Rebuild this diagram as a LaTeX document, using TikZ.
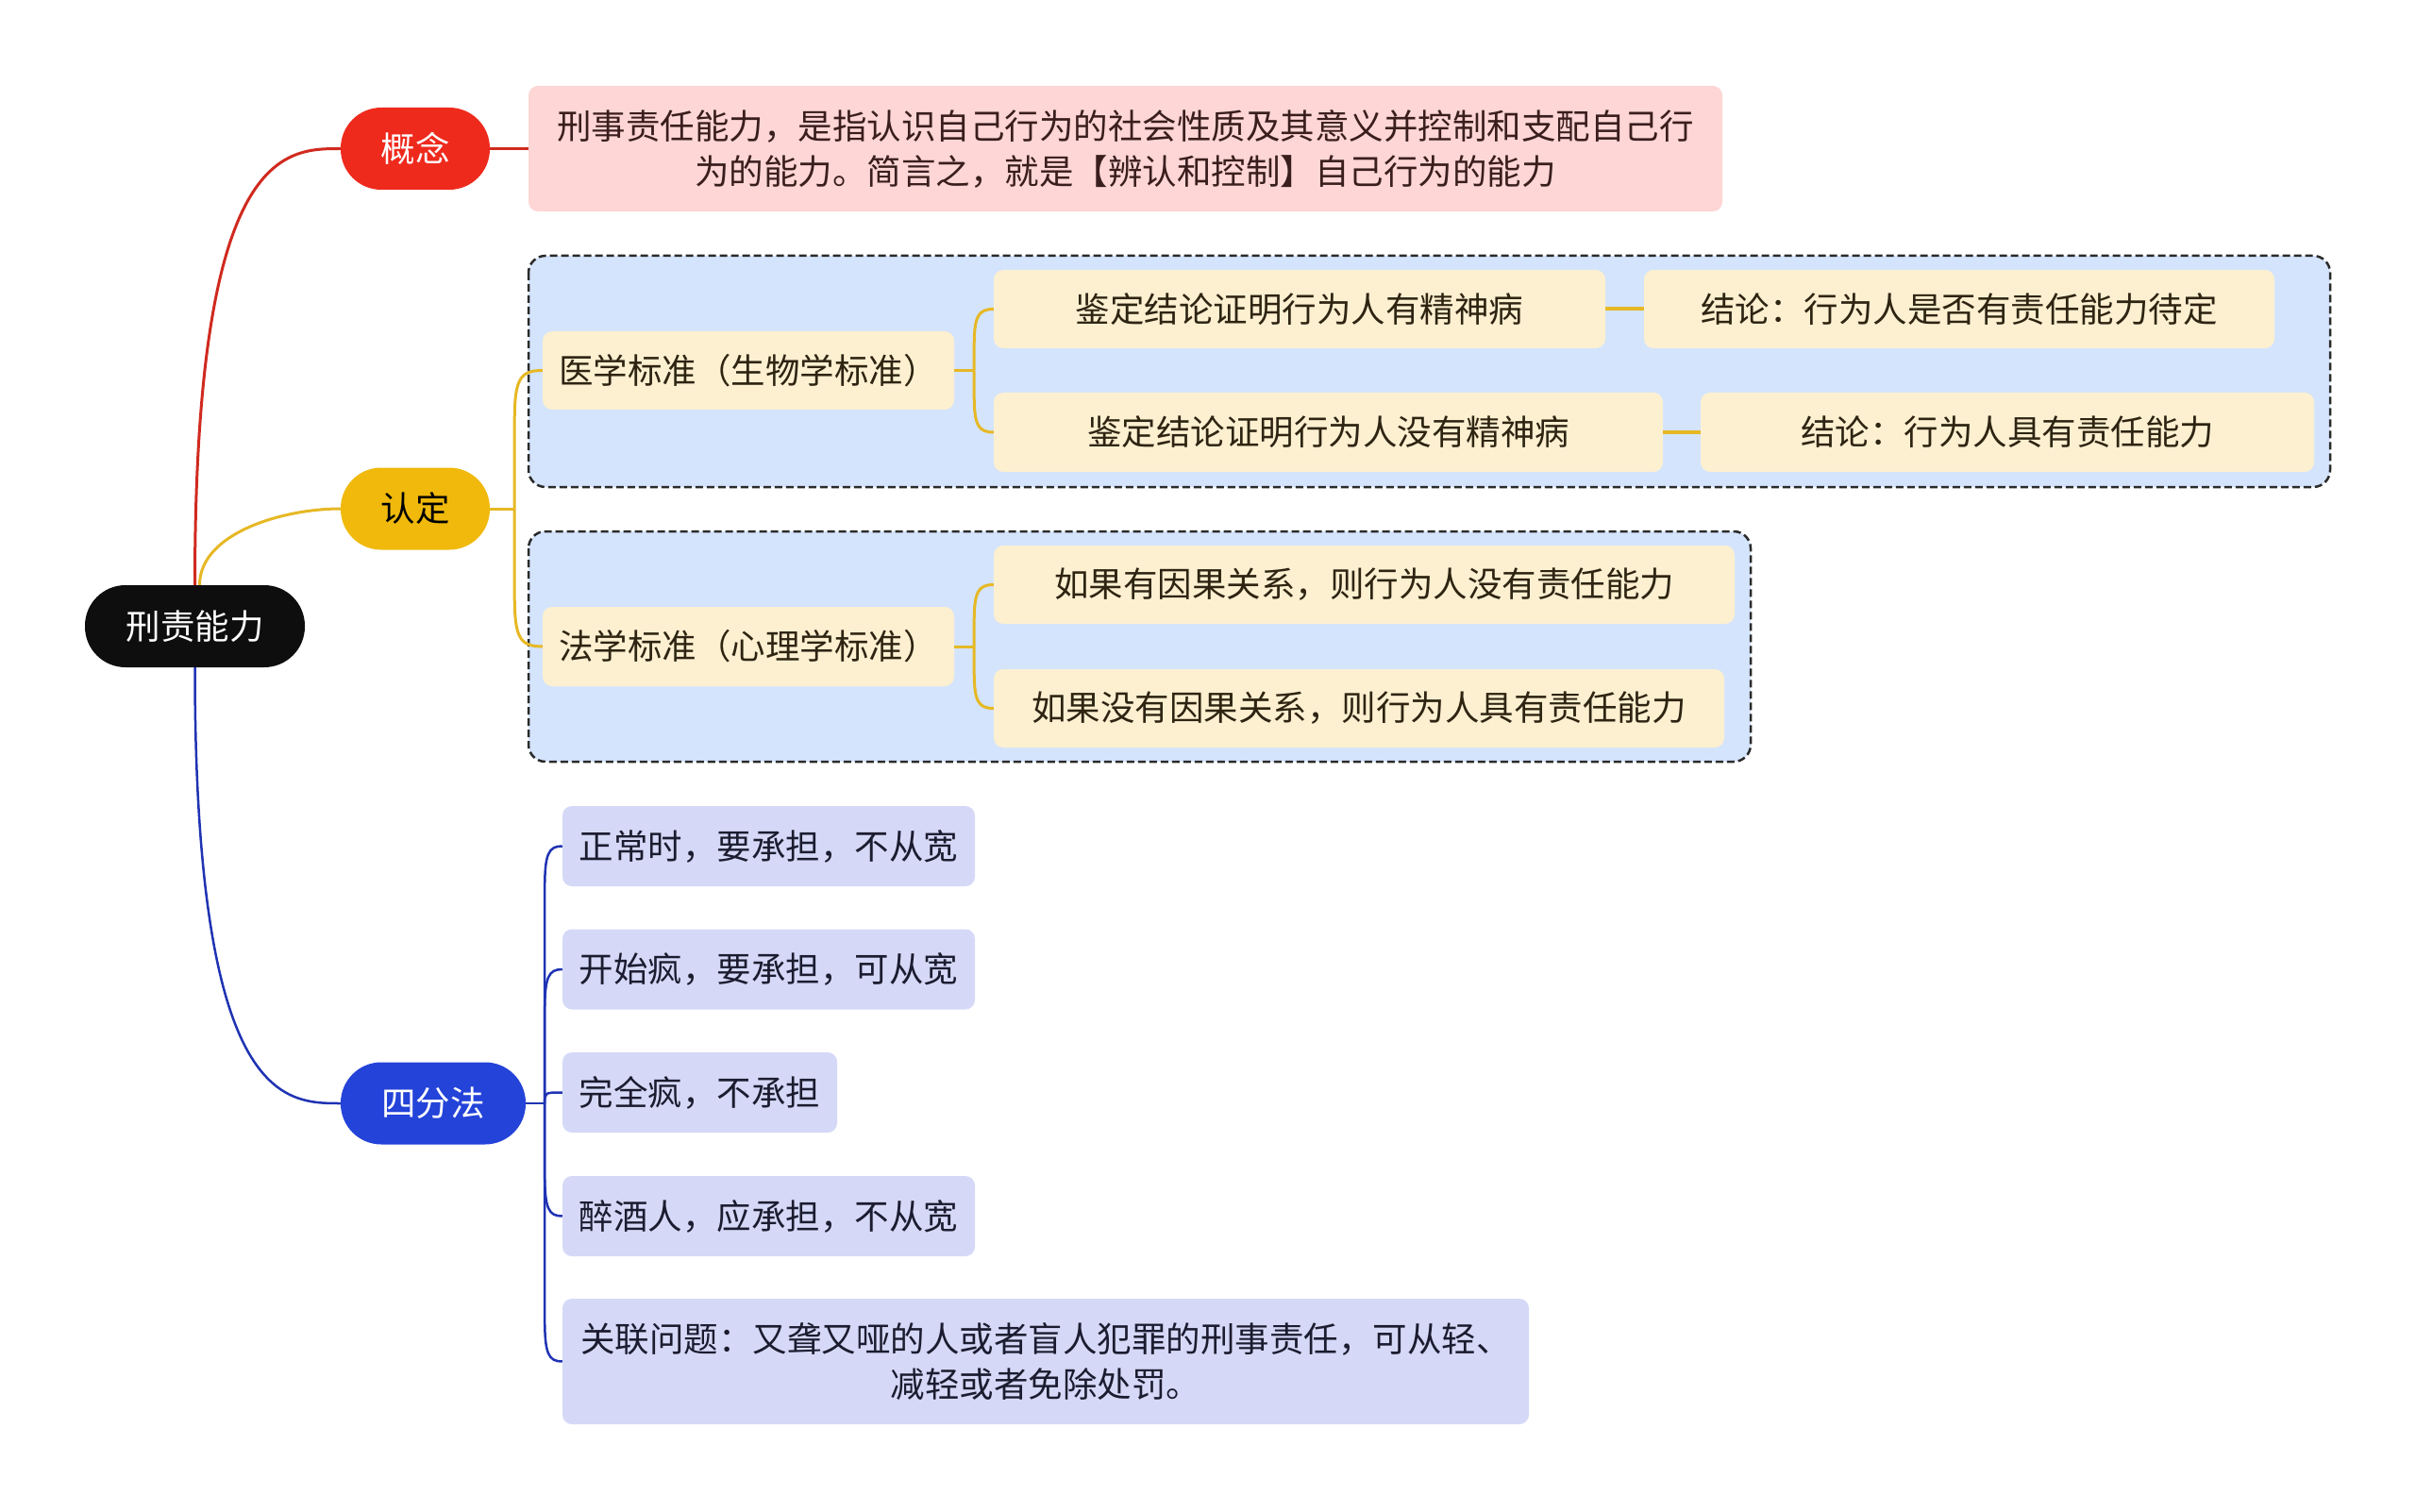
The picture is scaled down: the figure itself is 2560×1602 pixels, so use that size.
\documentclass[tikz,border=0pt]{standalone}
\usepackage{fontspec}
\setmainfont{Noto Sans CJK SC}
\usetikzlibrary{calc}
\definecolor{rootc}{HTML}{0E0E0E}
\definecolor{redc}{HTML}{EE2A1D}
\definecolor{redline}{HTML}{D02A1F}
\definecolor{yelc}{HTML}{F0B90C}
\definecolor{yelline}{HTML}{E6B824}
\definecolor{bluec}{HTML}{2443D8}
\definecolor{blueline}{HTML}{1F33B3}
\definecolor{pinkc}{HTML}{FDD6D5}
\definecolor{pinktext}{HTML}{3A1E1E}
\definecolor{grpc}{HTML}{D4E4FC}
\definecolor{grpborder}{HTML}{2A2A2A}
\definecolor{creamc}{HTML}{FCF0D1}
\definecolor{creamtext}{HTML}{2E2412}
\definecolor{lavc}{HTML}{D5D9F7}
\definecolor{lavtext}{HTML}{1C1C30}
\tikzset{
  every node/.style={font=\fontsize{36.5}{48}\selectfont, inner sep=0pt, align=center},
  pill/.style={rounded corners=43pt, minimum height=87pt, text=white},
  pinkbox/.style={fill=pinkc, rounded corners=10pt, text=pinktext},
  creambox/.style={fill=creamc, rounded corners=10pt, text=creamtext, minimum height=83pt},
  lavbox/.style={fill=lavc, rounded corners=10pt, text=lavtext, minimum height=85pt},
  grpbox/.style={fill=grpc, draw=grpborder, line width=2.5pt, dash pattern=on 8pt off 4pt, rounded corners=18pt},
  redlink/.style={draw=redline, line width=3pt},
  yellink/.style={draw=yelline, line width=3pt},
  yelshort/.style={draw=yelline, line width=4pt},
  bluelink/.style={draw=blueline, line width=2.5pt},
}
\begin{document}
\begin{tikzpicture}[x=1pt,y=-1pt]
\useasboundingbox (0,0) rectangle (2560,1602);
\fill[white] (0,0) rectangle (2560,1602);

% groups
\draw[grpbox] (560,271) rectangle (2469,516);
\draw[grpbox] (560,563) rectangle (1855,807);

% main nodes
\node[pill, fill=rootc, minimum width=233pt] (root) at (206.5,663.5) {刑责能力};
\node[pill, fill=redc, minimum width=158pt] (gn) at (440,157.5) {概念};
\node[pill, fill=yelc, text=black, minimum width=158pt] (rd) at (440,539) {认定};
\node[pill, fill=bluec, minimum width=196pt] (sf) at (459,1169) {四分法};

% concept
\node[pinkbox, minimum width=1265pt, minimum height=133pt] (def) at (1192.5,157.5)
  {刑事责任能力，是指认识自己行为的社会性质及其意义并控制和支配自己行\\为的能力。简言之，就是【辨认和控制】自己行为的能力};

% medical standard
\node[creambox, minimum width=436pt] (yx) at (793,392.5) {医学标准（生物学标准）};
\node[creambox, minimum width=648pt] (yx1) at (1377,327.5) {鉴定结论证明行为人有精神病};
\node[creambox, minimum width=668pt] (yx1c) at (2076,327.5) {结论：行为人是否有责任能力待定};
\node[creambox, minimum width=709pt, minimum height=84pt] (yx2) at (1407.5,458) {鉴定结论证明行为人没有精神病};
\node[creambox, minimum width=650pt, minimum height=84pt] (yx2c) at (2127,458) {结论：行为人具有责任能力};

% legal standard
\node[creambox, minimum width=436pt, minimum height=84pt] (fx) at (793,685) {法学标准（心理学标准）};
\node[creambox, minimum width=785pt] (fx1) at (1445.5,619.5) {如果有因果关系，则行为人没有责任能力};
\node[creambox, minimum width=774pt] (fx2) at (1440,750.5) {如果没有因果关系，则行为人具有责任能力};

% four-part
\node[lavbox, minimum width=437pt] (s1) at (814.5,896.5) {正常时，要承担，不从宽};
\node[lavbox, minimum width=437pt] (s2) at (814.5,1027) {开始疯，要承担，可从宽};
\node[lavbox, minimum width=291pt] (s3) at (741.5,1157.5) {完全疯，不承担};
\node[lavbox, minimum width=437pt] (s4) at (814.5,1288.5) {醉酒人，应承担，不从宽};
\node[lavbox, minimum width=1024pt, minimum height=133pt] (s5) at (1108,1442.5)
  {关联问题：又聋又哑的人或者盲人犯罪的刑事责任，可从轻、\\减轻或者免除处罚。};

% root connectors
\draw[redlink] (root.north) .. controls (root.north |- gn.west) and ($(gn.west)+(-60,0)$) .. (gn.west);
\draw[yellink] ($(root.north)+(5,0)$) .. controls ($(root.north)+(5,-55)$) and ($(rd.west)+(-61,0)$) .. (rd.west);
\draw[bluelink] (root.south) .. controls (root.south |- sf.west) and ($(sf.west)+(-60,0)$) .. (sf.west);

% concept link
\draw[redlink] (gn.east) -- (def.west);

% rending bracket
\coordinate (jr) at ($(rd.east)+(26,0)$);
\draw[yellink] (rd.east) -- (jr);
\draw[yellink] (jr) -- ($(jr |- yx.west)+(0,55)$) .. controls ($(jr |- yx.west)+(0,10)$) and ($(jr |- yx.west)+(5,0)$) .. (yx.west);
\draw[yellink] (jr) -- ($(jr |- fx.west)+(0,-55)$) .. controls ($(jr |- fx.west)+(0,-10)$) and ($(jr |- fx.west)+(5,0)$) .. (fx.west);

% medical bracket
\coordinate (jy) at ($(yx.east)+(21,0)$);
\draw[yellink] (yx.east) -- (jy);
\draw[yellink] (jy) -- ($(jy |- yx1.west)+(0,40)$) .. controls ($(jy |- yx1.west)+(0,8)$) and ($(jy |- yx1.west)+(4,0)$) .. (yx1.west);
\draw[yellink] (jy) -- ($(jy |- yx2.west)+(0,-40)$) .. controls ($(jy |- yx2.west)+(0,-8)$) and ($(jy |- yx2.west)+(4,0)$) .. (yx2.west);
\draw[yelshort] (yx1.east) -- (yx1c.west);
\draw[yelshort] (yx2.east) -- (yx2c.west);

% legal bracket
\coordinate (jf) at ($(fx.east)+(21,0)$);
\draw[yellink] (fx.east) -- (jf);
\draw[yellink] (jf) -- ($(jf |- fx1.west)+(0,40)$) .. controls ($(jf |- fx1.west)+(0,8)$) and ($(jf |- fx1.west)+(4,0)$) .. (fx1.west);
\draw[yellink] (jf) -- ($(jf |- fx2.west)+(0,-40)$) .. controls ($(jf |- fx2.west)+(0,-8)$) and ($(jf |- fx2.west)+(4,0)$) .. (fx2.west);

% four-part bracket
\coordinate (js) at ($(sf.east)+(20,0)$);
\draw[bluelink] (sf.east) -- (js);
\draw[bluelink] (js) -- ($(js |- s1.west)+(0,45)$) .. controls ($(js |- s1.west)+(0,8)$) and ($(js |- s1.west)+(4,0)$) .. (s1.west);
\draw[bluelink] (js) -- ($(js |- s2.west)+(0,45)$) .. controls ($(js |- s2.west)+(0,8)$) and ($(js |- s2.west)+(4,0)$) .. (s2.west);
\draw[bluelink] (js) .. controls (js |- s3.west) .. (s3.west);
\draw[bluelink] (js) -- ($(js |- s4.west)+(0,-45)$) .. controls ($(js |- s4.west)+(0,-8)$) and ($(js |- s4.west)+(4,0)$) .. (s4.west);
\draw[bluelink] (js) -- ($(js |- s5.west)+(0,-45)$) .. controls ($(js |- s5.west)+(0,-8)$) and ($(js |- s5.west)+(4,0)$) .. (s5.west);
\end{tikzpicture}
\end{document}
